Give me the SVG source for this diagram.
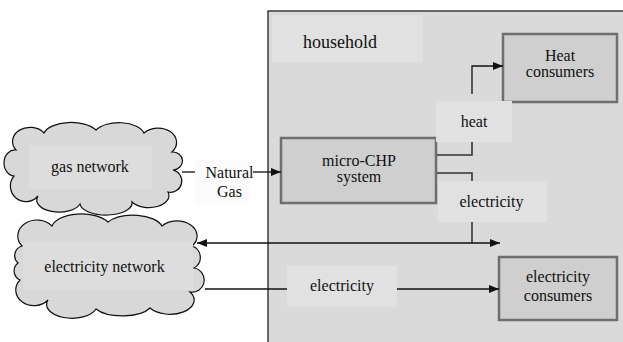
<svg xmlns="http://www.w3.org/2000/svg" width="623" height="342" viewBox="0 0 623 342">
<defs>
<style>
text{font-family:'Times New Roman','Liberation Serif',Tinos,'DejaVu Serif','Noto Serif',serif;font-size:16px;fill:#111;text-anchor:middle}
.box{fill:#cfcfcf;stroke:#6e6e6e;stroke-width:2.5}
.cloud{fill:#d8d8d8;stroke:#111;stroke-width:1.2}
.lbl{fill:#e1e1e1}
.inner{fill:#dddddd}
.ln{fill:none;stroke:#111;stroke-width:1.3}
.ln2{fill:none;stroke:#333;stroke-width:1.6}
</style>
<marker id="ah" markerUnits="userSpaceOnUse" markerWidth="12" markerHeight="10" refX="10" refY="4" orient="auto">
<path d="M0,0 L10,4 L0,8 Z" fill="#111"/>
</marker>
<marker id="ahs" markerUnits="userSpaceOnUse" markerWidth="12" markerHeight="10" refX="0" refY="4" orient="auto">
<path d="M10,0 L0,4 L10,8 Z" fill="#111"/>
</marker>
</defs>
<rect width="623" height="342" fill="#fff"/>

<g id="household">
<rect x="268" y="11" width="360" height="340" fill="#dadada" stroke="#222" stroke-width="1.3"/>
<rect class="lbl" x="272" y="15" width="151" height="47"/>
<text x="340" y="48" style="font-size:18px">household</text>
</g>

<g id="gas-network">
<path class="cloud" d="M16,150 A16,13 0 0 1 44,133 A28,14 0 0 1 96,130 A26,14 0 0 1 144,133 A18,14 0 0 1 172,152 A10,9 0 0 1 173,170 A11,11 0 0 1 168,192 A20,12 0 0 1 132,202 A26,12 0 0 1 80,204 A22,12 0 0 1 38,196 A12,12 0 0 1 14,176 A11,13 0 0 1 16,150 Z"/>
<rect class="inner" x="29" y="145" width="123" height="44"/>
<text x="90" y="172">gas network</text>
</g>

<g id="electricity-network">
<path class="cloud" d="M22,246 A18,15 0 0 1 52,226 A30,15 0 0 1 108,222 A30,15 0 0 1 162,226 A20,15 0 0 1 192,246 A12,12 0 0 1 194,268 A12,12 0 0 1 190,292 A22,13 0 0 1 150,308 A30,13 0 0 1 96,309 A24,13 0 0 1 48,300 A14,12 0 0 1 20,280 A10,10 0 0 1 18,263 A10,10 0 0 1 22,246 Z"/>
<rect class="inner" x="23" y="242" width="170" height="48"/>
<text x="104.5" y="272">electricity network</text>
</g>

<g id="micro-chp">
<rect class="box" x="281" y="138" width="155" height="65"/>
<text x="359" y="166">micro-CHP</text>
<text x="359" y="182">system</text>
</g>

<g id="heat-consumers">
<rect class="box" x="503" y="34" width="114" height="68"/>
<text x="560" y="61">Heat</text>
<text x="560" y="77">consumers</text>
</g>

<g id="electricity-consumers">
<rect class="box" x="499" y="257" width="118" height="63"/>
<text x="558" y="282">electricity</text>
<text x="558" y="301">consumers</text>
</g>

<g id="connectors">
<path class="ln" d="M182,172 H195"/>
<path class="ln" d="M253,172 H281" marker-end="url(#ah)"/>
<rect x="195" y="160" width="54" height="44" fill="#fbfbfb"/>
<text x="229.5" y="178">Natural</text>
<text x="229.5" y="197">Gas</text>

<path class="ln2" d="M437,155 H472 V142"/>
<path class="ln" d="M472,94 V66 H503" marker-end="url(#ah)"/>
<rect class="lbl" x="436" y="101" width="76" height="41"/>
<text x="474" y="127">heat</text>

<path class="ln2" d="M437,173 H472 V181"/>
<path class="ln" d="M472,222 V243"/>
<rect class="lbl" x="438" y="181" width="109" height="41"/>
<text x="491.5" y="207">electricity</text>

<path class="ln" d="M197,243 H500" marker-start="url(#ahs)" marker-end="url(#ah)"/>

<path class="ln" d="M205,289 H287"/>
<path class="ln" d="M397,289 H499" marker-end="url(#ah)"/>
<rect class="lbl" x="287" y="266" width="110" height="41"/>
<text x="342" y="291">electricity</text>
</g>
</svg>
